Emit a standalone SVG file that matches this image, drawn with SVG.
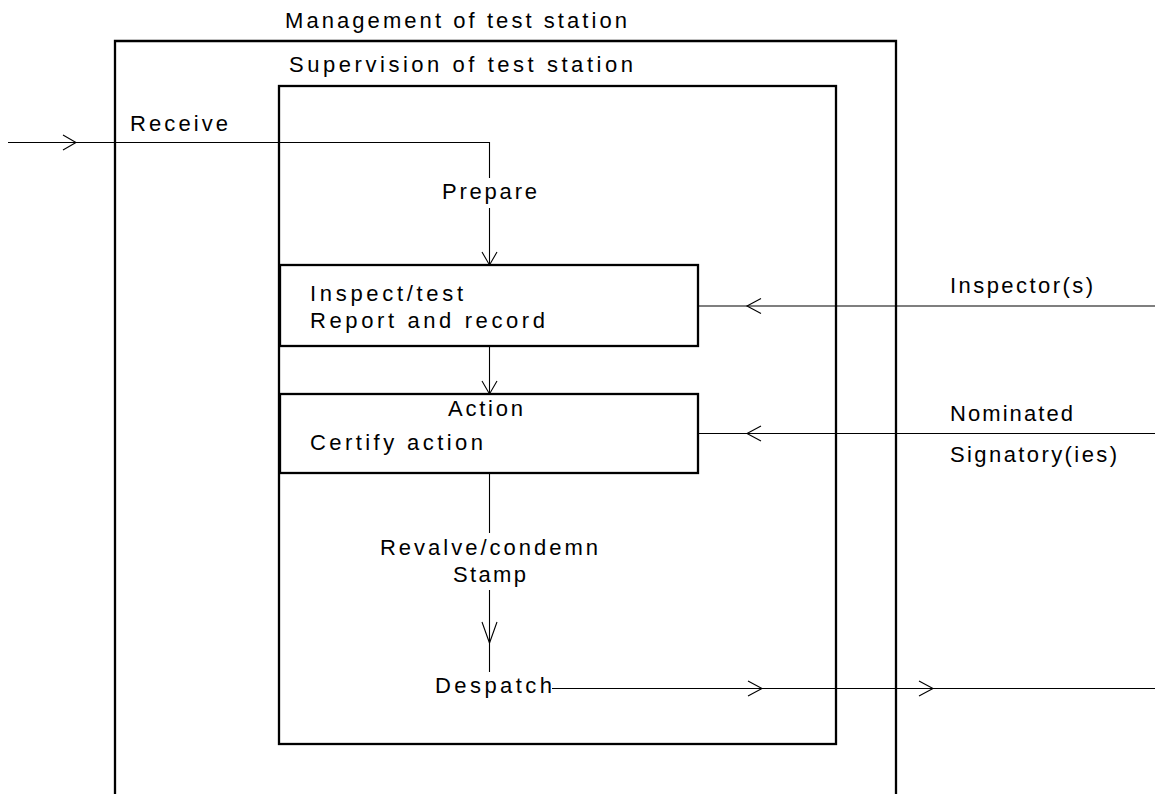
<svg xmlns="http://www.w3.org/2000/svg" width="1155" height="794" viewBox="0 0 1155 794">
<style>
.box{fill:none;stroke:#000;stroke-width:2.3}
.ln{fill:none;stroke:#000;stroke-width:1.1}
.hd{fill:none;stroke:#000;stroke-width:1.1}
text{font-family:"Liberation Sans",Arial,sans-serif;font-size:22px;fill:#000}
</style>
<rect width="1155" height="794" fill="#fff"/>
<g id="management">
<path class="box" d="M115,800 V41 H896 V800"/>
<text x="285" y="28" textLength="342" lengthAdjust="spacing">Management of test station</text>
</g>
<g id="supervision">
<rect class="box" x="279" y="86" width="557" height="658"/>
<text x="289" y="72" textLength="344" lengthAdjust="spacing">Supervision of test station</text>
</g>
<g id="inspect">
<rect class="box" x="280" y="265" width="418" height="81"/>
<text x="310" y="301" textLength="153" lengthAdjust="spacing">Inspect/test</text>
<text x="310" y="328" textLength="235" lengthAdjust="spacing">Report and record</text>
</g>
<g id="action">
<rect class="box" x="280" y="394" width="418" height="79"/>
<text x="448" y="416" textLength="75" lengthAdjust="spacing">Action</text>
<text x="310" y="450" textLength="173" lengthAdjust="spacing">Certify action</text>
</g>
<g id="labels">
<text x="130" y="131" textLength="98" lengthAdjust="spacing">Receive</text>
<text x="442" y="199" textLength="95" lengthAdjust="spacing">Prepare</text>
<text x="950" y="293" textLength="143" lengthAdjust="spacing">Inspector(s)</text>
<text x="950" y="421" textLength="123" lengthAdjust="spacing">Nominated</text>
<text x="950" y="462" textLength="167" lengthAdjust="spacing">Signatory(ies)</text>
<text x="380" y="555" textLength="218" lengthAdjust="spacing">Revalve/condemn</text>
<text x="453" y="582" textLength="73" lengthAdjust="spacing">Stamp</text>
<text x="435" y="693" textLength="117" lengthAdjust="spacing">Despatch</text>
</g>
<g id="connectors">
<path class="ln" d="M8,142.5 H489.5 V178"/>
<path class="hd" d="M63,135 L76,142.5 L63,150"/>
<path class="ln" d="M489.5,208 V265"/>
<path class="hd" d="M482,252 L489.5,265 L497,252"/>
<path class="ln" d="M489.5,346 V394"/>
<path class="hd" d="M482,381 L489.5,394 L497,381"/>
<path class="ln" d="M698,306 H1155"/>
<path class="hd" d="M761,298.5 L747,306 L761,313.5"/>
<path class="ln" d="M698,433.5 H1155"/>
<path class="hd" d="M761,426 L747,433.5 L761,441"/>
<path class="ln" d="M489.5,473 V533"/>
<path class="ln" d="M489.5,590 V672"/>
<path class="hd" d="M482,622 L489.5,643 L497,622"/>
<path class="ln" d="M552,688.5 H1155"/>
<path class="hd" d="M748,681 L762,688.5 L748,696"/>
<path class="hd" d="M919,681 L933,688.5 L919,696"/>
</g>
</svg>
